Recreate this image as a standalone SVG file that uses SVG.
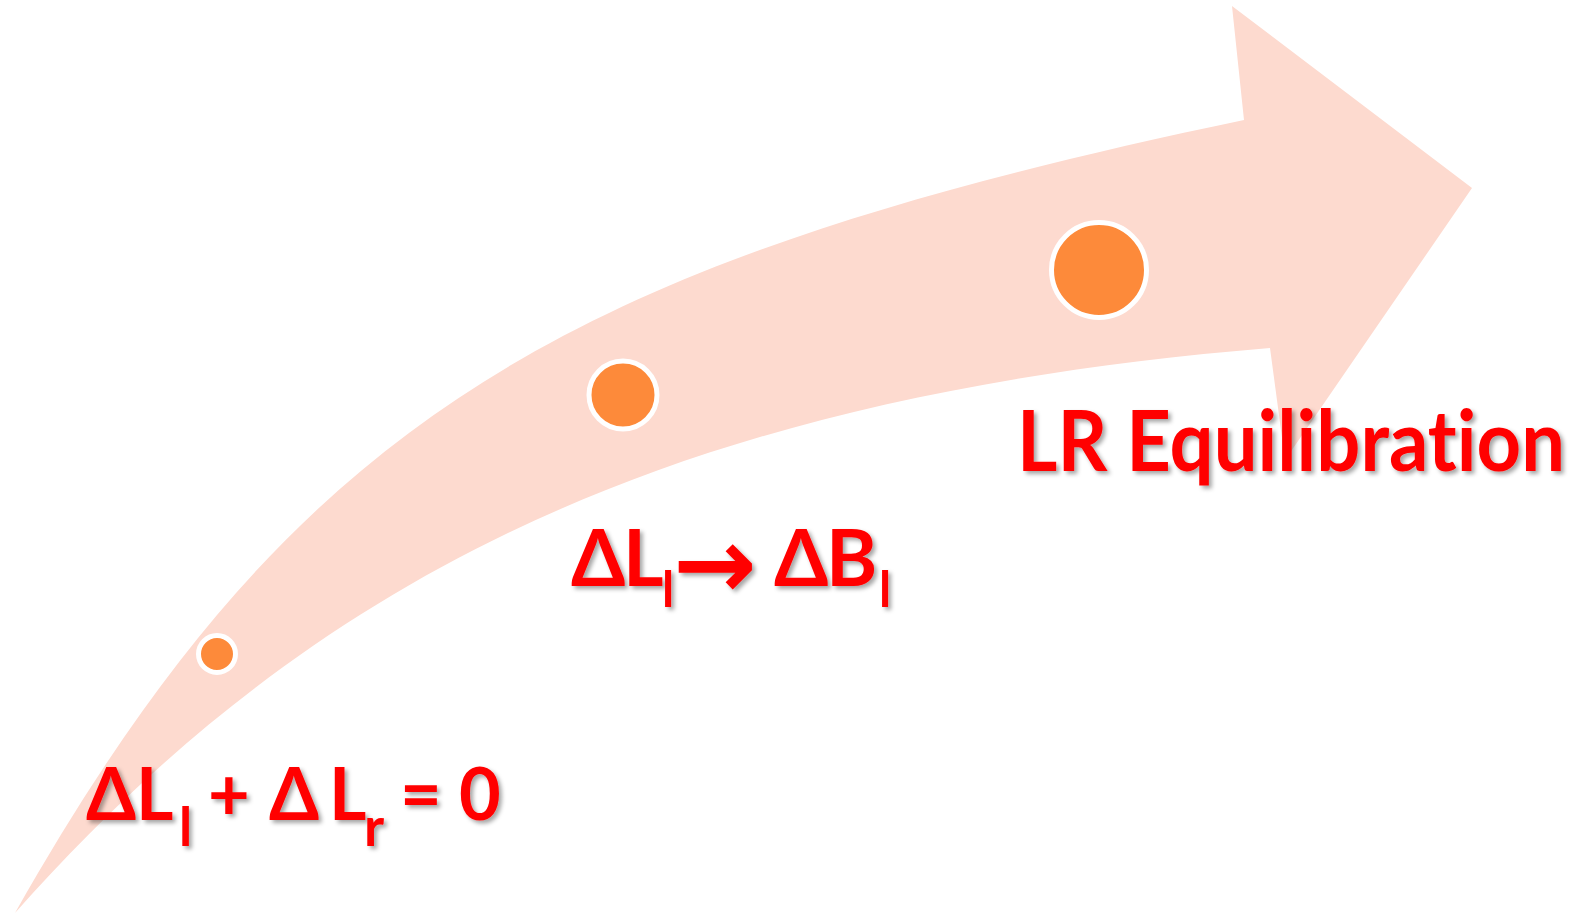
<svg xmlns="http://www.w3.org/2000/svg" width="1585" height="916" viewBox="0 0 1585 916">
  <defs>
    <filter id="shadow" x="-10%" y="-20%" width="130%" height="150%">
      <feDropShadow dx="3" dy="3" stdDeviation="2" flood-color="#000" flood-opacity="0.35"/>
    </filter>
    <style>
      .band { fill: #FDDACF; }
      .dot { fill: #FD8A3A; stroke: #FFFFFF; stroke-width: 5; }
      .lbl { font-family: Lato, "Open Sans", "DejaVu Sans", sans-serif; font-weight: bold; fill: #FF0000; filter: url(#shadow); font-variant-ligatures: none; font-feature-settings: "liga" 0, "clig" 0; }
      .arr { font-family: "DejaVu Sans", sans-serif; font-weight: bold; }
    </style>
  </defs>
  <rect width="1585" height="916" fill="#FFFFFF"/>
  <g id="connectors">
    <path id="curved-arrow" class="band" d="M15,913 C295,418 565,262 1244,120 L1232,6 L1472,188 L1285,460 L1270,348 C672,397 314,576 15,913 Z"/>
  </g>
  <g id="dot1"><circle class="dot" cx="217" cy="654" r="18.5"/></g>
  <g id="dot2"><circle class="dot" cx="623" cy="395" r="34"/></g>
  <g id="dot3"><circle class="dot" cx="1099" cy="270" r="47.5"/></g>
  <g id="label1">
    <text class="lbl" font-size="72" y="820"><tspan x="86">Δ</tspan><tspan x="136">L</tspan><tspan x="179" y="846" font-size="53">l</tspan><tspan x="208" y="820">+</tspan><tspan x="269">Δ</tspan><tspan x="329">L</tspan><tspan x="364" y="846" font-size="54">r</tspan><tspan x="400" y="820">=</tspan><tspan x="459">0</tspan></text>
  </g>
  <g id="label2">
    <text class="lbl" font-size="78" y="586"><tspan x="571">Δ</tspan><tspan x="623">L</tspan><tspan x="662" y="607" font-size="49">l</tspan><tspan class="arr" x="673" y="598" font-size="100">→</tspan><tspan x="774" y="586">Δ</tspan><tspan x="826">B</tspan><tspan x="879" y="607" font-size="49">l</tspan></text>
  </g>
  <g id="label3">
    <text class="lbl" font-size="85" x="1017" y="471" textLength="548" lengthAdjust="spacingAndGlyphs">LR Equilibration</text>
  </g>
</svg>
